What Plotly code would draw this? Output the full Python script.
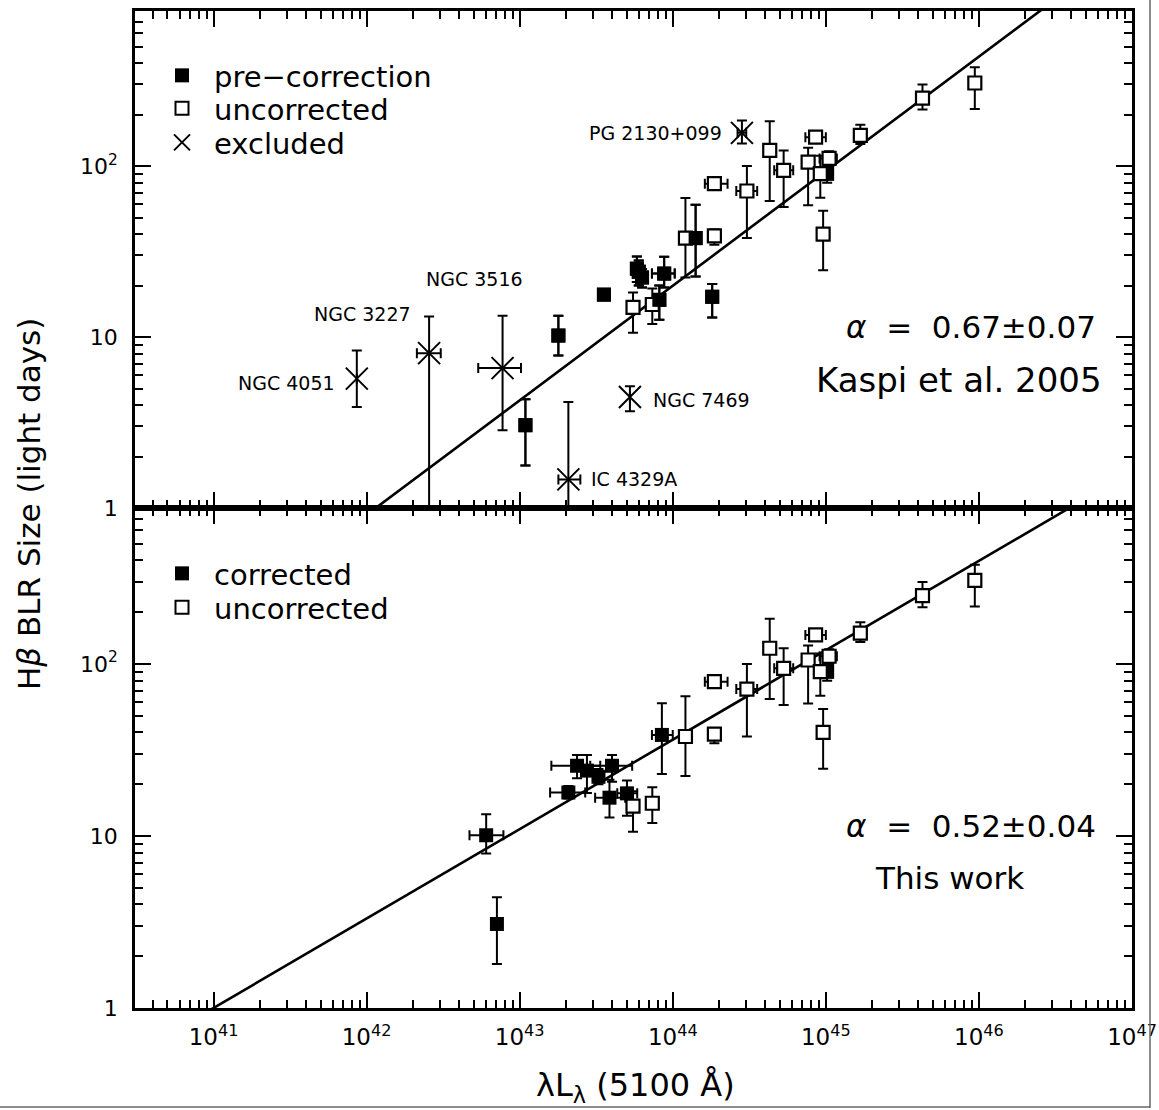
import numpy as np
import plotly.graph_objects as go

# ----------------------------- data ---------------------------------
# uncorrected sources (open squares; identical in both panels)
unc_L    = [5.50e43, 7.35e43, 1.21e44, 1.87e44, 1.87e44, 3.05e44, 4.30e44, 5.30e44,
            7.66e44, 8.57e44, 1.05e45, 9.20e44, 9.60e44, 1.68e45, 4.28e45, 9.40e45]
unc_L_lo = [5.50e43, 7.35e43, 1.21e44, 1.87e44, 1.62e44, 2.60e44, 4.30e44, 4.60e44,
            7.66e44, 7.35e44, 9.10e44, 9.20e44, 9.60e44, 1.68e45, 4.28e45, 9.40e45]
unc_L_hi = [5.50e43, 7.35e43, 1.21e44, 1.87e44, 2.28e44, 3.56e44, 4.30e44, 6.12e44,
            7.66e44, 1.00e45, 1.18e45, 9.20e44, 9.60e44, 1.68e45, 4.28e45, 9.40e45]
unc_R    = [14.9, 15.5, 37.9, 39.1, 78.9, 71.5, 123.5, 94.4, 105.5, 147.6, 110.9, 90.2, 40.0, 151.0, 250.0, 306.0]
unc_R_lo = [10.6, 11.9, 22.3, 34.6, 75.0, 37.9, 62.5, 57.7, 59.0, 137.0, 100.0, 65.3, 24.6, 134.4, 214.0, 216.0]
unc_R_hi = [18.2, 19.2, 65.0, 42.5, 83.0, 100.0, 183.0, 123.5, 128.0, 158.0, 122.0, 115.0, 54.7, 174.6, 299.5, 378.0]

# pre-correction sources (filled squares, top panel)
pre_L    = [3.55e43, 5.83e43, 6.00e43, 6.30e43, 8.79e43, 8.17e43, 1.41e44, 1.81e44, 1.79e43, 1.09e43, 1.02e45]
pre_L_lo = [3.55e43, 5.83e43, 6.00e43, 6.30e43, 7.31e43, 8.17e43, 1.41e44, 1.81e44, 1.79e43, 1.09e43, 1.02e45]
pre_L_hi = [3.55e43, 5.83e43, 6.00e43, 6.30e43, 1.03e44, 8.17e43, 1.41e44, 1.81e44, 1.79e43, 1.09e43, 1.02e45]
pre_R    = [17.7, 25.1, 24.1, 22.3, 23.5, 16.5, 37.9, 17.2, 10.2, 3.05, 90.0]
pre_R_lo = [16.5, 21.0, 20.0, 19.5, 19.5, 12.6, 22.6, 13.0, 7.8, 1.77, 80.0]
pre_R_hi = [19.0, 29.6, 28.0, 25.0, 29.5, 20.0, 59.3, 20.4, 13.3, 4.32, 100.0]

# corrected sources (filled squares, bottom panel)
cor_L    = [6.04e42, 7.10e42, 2.08e43, 2.37e43, 2.75e43, 3.27e43, 4.01e43, 3.86e43, 5.02e43, 8.49e43, 1.02e45]
cor_L_lo = [4.70e42, 7.10e42, 1.58e43, 1.61e43, 2.75e43, 3.27e43, 2.89e43, 3.11e43, 4.34e43, 7.31e43, 1.02e45]
cor_L_hi = [7.83e42, 7.10e42, 2.68e43, 3.36e43, 2.75e43, 3.27e43, 5.43e43, 4.89e43, 5.86e43, 1.00e44, 1.02e45]
cor_R    = [10.1, 3.08, 17.9, 25.6, 24.0, 22.1, 25.6, 16.7, 17.7, 38.7, 90.0]
cor_R_lo = [7.9, 1.80, 16.5, 21.7, 17.8, 20.0, 20.7, 12.8, 13.1, 22.9, 80.0]
cor_R_hi = [13.4, 4.40, 19.5, 29.6, 29.6, 24.5, 29.6, 21.2, 21.0, 59.1, 100.0]

# excluded sources (top panel)
exc_names = ["NGC 4051", "NGC 3227", "NGC 3516", "NGC 7469", "IC 4329A", "PG 2130+099"]
exc_L    = [8.63e41, 2.56e42, 7.73e42, 5.25e43, 2.08e43, 2.83e44]
exc_L_lo = [8.63e41, 2.13e42, 5.36e42, 5.25e43, 1.79e43, 2.65e44]
exc_L_hi = [8.63e41, 3.05e42, 1.02e43, 5.25e43, 2.49e43, 3.02e44]
exc_R    = [5.71, 8.05, 6.58, 4.46, 1.47, 156.4]
exc_R_lo = [3.90, 0.50, 2.85, 3.68, 0.50, 135.7]
exc_R_hi = [8.34, 13.2, 13.3, 5.15, 4.17, 185.0]

# fits: log R = K + alpha * log(L / 1e44)
fit_alpha = [0.67, 0.52]          # top (Kaspi et al. 2005), bottom (this work)
fit_K     = [1.30, 1.56]
fit_text  = ["0.67±0.07", "0.52±0.04"]

x_tick_vals = [1e41, 1e42, 1e43, 1e44, 1e45, 1e46, 1e47]
x_tick_text = ["10<sup>41</sup>", "10<sup>42</sup>", "10<sup>43</sup>", "10<sup>44</sup>",
               "10<sup>45</sup>", "10<sup>46</sup>", "10<sup>47</sup>"]
y_tick_vals = [1, 10, 100]
y_tick_text = ["1", "10", "10<sup>2</sup>"]

# ----------------------------- figure -------------------------------
FONT = "DejaVu Sans"
fig = go.Figure()


def err(v, lo, hi, w=5):
    return dict(type="data", symmetric=False,
                array=[h - c for c, h in zip(v, hi)],
                arrayminus=[c - l for c, l in zip(v, lo)],
                color="black", thickness=2, width=w)


def add_sq(L, Llo, Lhi, R, Rlo, Rhi, xa, ya, filled):
    fig.add_trace(go.Scatter(
        x=L, y=R, mode="markers", xaxis=xa, yaxis=ya, showlegend=False,
        error_x=err(L, Llo, Lhi), error_y=err(R, Rlo, Rhi),
        marker=dict(symbol="square", size=14 if filled else 13,
                    color="black" if filled else "white",
                    line=dict(color="black", width=0 if filled else 2.2)),
        hoverinfo="skip"))


# fit lines
lx = np.logspace(40.3, 47.2, 50)
for (xa, ya), a, K in zip([("x2", "y2"), ("x", "y")], fit_alpha, fit_K):
    fig.add_trace(go.Scatter(x=lx, y=10 ** (K + a * (np.log10(lx) - 44.0)),
                             mode="lines", xaxis=xa, yaxis=ya, showlegend=False,
                             line=dict(color="black", width=2.6), hoverinfo="skip"))

# top panel
add_sq(pre_L, pre_L_lo, pre_L_hi, pre_R, pre_R_lo, pre_R_hi, "x2", "y2", True)
add_sq(unc_L, unc_L_lo, unc_L_hi, unc_R, unc_R_lo, unc_R_hi, "x2", "y2", False)
m = [i for i, l in enumerate(pre_L) if l < 5e44]
add_sq([pre_L[i] for i in m], [pre_L_lo[i] for i in m], [pre_L_hi[i] for i in m],
       [pre_R[i] for i in m], [pre_R_lo[i] for i in m], [pre_R_hi[i] for i in m], "x2", "y2", True)
fig.add_trace(go.Scatter(
    x=exc_L, y=exc_R, mode="markers", xaxis="x2", yaxis="y2", showlegend=False,
    error_x=err(exc_L, exc_L_lo, exc_L_hi), error_y=err(exc_R, exc_R_lo, exc_R_hi),
    marker=dict(symbol="x-thin-open", size=22, color="black", line=dict(color="black", width=2)),
    hoverinfo="skip"))

# bottom panel
add_sq(cor_L, cor_L_lo, cor_L_hi, cor_R, cor_R_lo, cor_R_hi, "x", "y", True)
add_sq(unc_L, unc_L_lo, unc_L_hi, unc_R, unc_R_lo, unc_R_hi, "x", "y", False)

W, H = 1159, 1110
ml, mr, mt, mb = 135, 27, 11, 102
pw, ph = W - ml - mr, H - mt - mb


def px(xp):
    return (xp - ml) / pw


def py(yp):
    return (H - mb - yp) / ph


# legend entries: each in its own legend box so rows can be placed exactly
leg_fill = dict(symbol="square", size=14, color="black", line=dict(width=0))
leg_open = dict(symbol="square", size=13, color="white", line=dict(color="black", width=2))
leg_x = dict(symbol="x-thin-open", size=20, color="black", line=dict(color="black", width=2))
leg_items = [("pre−correction", leg_fill, 80), ("uncorrected", leg_open, 113), ("excluded", leg_x, 147),
             ("corrected", leg_fill, 578), ("uncorrected", leg_open, 612)]
legend_layout = {}
for k, (name, mk, yc) in enumerate(leg_items):
    key = "legend" if k == 0 else "legend%d" % (k + 1)
    fig.add_trace(go.Scatter(x=[None], y=[None], mode="markers", name=name, marker=mk,
                             legend=key, xaxis="x", yaxis="y"))
    legend_layout[key] = dict(x=px(150), y=py(yc - 30), xanchor="left", yanchor="top",
                              bgcolor="rgba(0,0,0,0)", itemwidth=54,
                              font=dict(family=FONT, size=29, color="black"))

# source labels
lab_off = [(-20, -4, "right"), (-16, 39, "right"), (-28, 89, "center"),
           (21, -3, "left"), (21, 0, "left"), (-18, 0, "right")]
for nm, L, R, (dx, dy, anc) in zip(exc_names, exc_L, exc_R, lab_off):
    fig.add_annotation(x=np.log10(L), y=np.log10(R), xref="x2", yref="y2", text=nm,
                       showarrow=False, xanchor=anc, yanchor="middle", xshift=dx, yshift=dy,
                       font=dict(family=FONT, size=19, color="black"))

txt = dict(family=FONT, size=31, color="black")
fig.add_annotation(x=px(1098), y=py(327), xref="paper", yref="paper", xanchor="right", yanchor="middle",
                   text="<i>α</i>  =  " + fit_text[0], showarrow=False, font=txt)
fig.add_annotation(x=px(1104), y=py(380), xref="paper", yref="paper", xanchor="right", yanchor="middle",
                   text="Kaspi et al. 2005", showarrow=False, font=dict(family=FONT, size=34, color="black"))
fig.add_annotation(x=px(1098), y=py(826), xref="paper", yref="paper", xanchor="right", yanchor="middle",
                   text="<i>α</i>  =  " + fit_text[1], showarrow=False, font=txt)
fig.add_annotation(x=px(949), y=py(878), xref="paper", yref="paper", xanchor="center", yanchor="middle",
                   text="This work", showarrow=False, font=txt)

# axis titles
fig.add_annotation(x=px(29), y=py(504), xref="paper", yref="paper", textangle=-90,
                   text="H<i>β</i> BLR Size (light days)", showarrow=False,
                   xanchor="center", yanchor="middle", font=dict(family=FONT, size=31, color="black"))
fig.add_annotation(x=px(635), y=py(1087), xref="paper", yref="paper",
                   text="λL<sub>λ</sub> (5100 Å)", showarrow=False,
                   xanchor="center", yanchor="middle", font=dict(family=FONT, size=32, color="black"))

# image frame lines
fig.add_shape(type="line", xref="paper", yref="paper", x0=px(1150), x1=px(1150), y0=py(1108), y1=py(0),
              line=dict(color="#666666", width=1.5))
fig.add_shape(type="line", xref="paper", yref="paper", x0=px(0), x1=px(1150), y0=py(1107), y1=py(1107),
              line=dict(color="#666666", width=1.5))

minor_x = [m_ * 10.0 ** e for e in range(40, 47) for m_ in range(2, 10)]
minor_y = [m_ * 10.0 ** e for e in range(0, 3) for m_ in range(2, 10)]

xcommon = dict(type="log", range=[40.487, 47.0], tickvals=x_tick_vals, ticktext=x_tick_text,
               ticks="inside", ticklen=16, tickwidth=2, tickcolor="black",
               showline=True, linewidth=2.5, linecolor="black", mirror="allticks",
               showgrid=False, zeroline=False, automargin=False, ticklabeloverflow="allow",
               minor=dict(tickvals=minor_x, ticks="inside", ticklen=8, tickwidth=1.8, tickcolor="black",
                          showgrid=False),
               tickfont=dict(family=FONT, size=23, color="black"))
ycommon = dict(type="log", range=[0, 2.907], tickvals=y_tick_vals, ticktext=y_tick_text,
               ticks="inside", ticklen=16, tickwidth=2, tickcolor="black",
               showline=True, linewidth=2.5, linecolor="black", mirror="allticks",
               showgrid=False, zeroline=False, automargin=False,
               minor=dict(tickvals=minor_y, ticks="inside", ticklen=8, tickwidth=1.8, tickcolor="black",
                          showgrid=False),
               tickfont=dict(family=FONT, size=22, color="black"))

split = 500 / ph
fig.update_layout(
    width=W, height=H, margin=dict(l=ml, r=mr, t=mt, b=mb, autoexpand=False),
    paper_bgcolor="white", plot_bgcolor="white",
    font=dict(family=FONT, color="black"),
    xaxis=dict(xcommon, domain=[0, 1], anchor="y", ticklabelstandoff=7),
    xaxis2=dict(xcommon, domain=[0, 1], anchor="y2", matches="x", showticklabels=False),
    yaxis=dict(ycommon, domain=[0, split], anchor="x", ticklabelstandoff=10),
    yaxis2=dict(ycommon, domain=[split, 1], anchor="x2", ticklabelstandoff=10),
    showlegend=True,
    **legend_layout,
)

fig.write_html("out.html")
